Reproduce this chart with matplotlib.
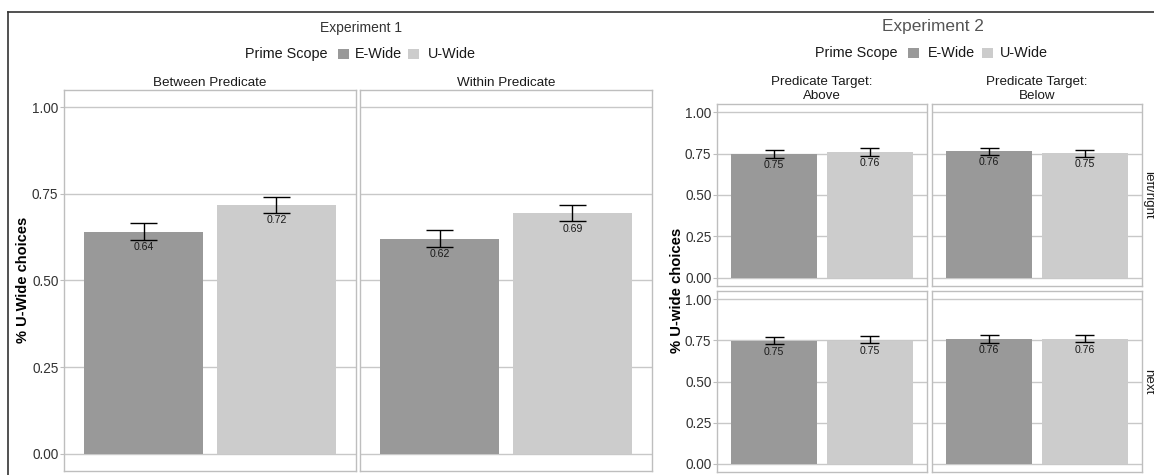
import matplotlib
matplotlib.use('Agg')
import matplotlib.pyplot as plt
from matplotlib.patches import Rectangle
from matplotlib.lines import Line2D

plt.rcParams['font.family'] = ['Liberation Sans', 'DejaVu Sans']

# ---------------- data ----------------
scopes = ['E-Wide', 'U-Wide']
scope_colors = ['#999999', '#CCCCCC']
y_ticks = [0.0, 0.25, 0.5, 0.75, 1.0]
y_ticklabels = ['0.00', '0.25', '0.50', '0.75', '1.00']

exp1_panels = ['Between Predicate', 'Within Predicate']
exp1_mean = [[0.641, 0.717], [0.621, 0.694]]
exp1_low = [[0.618, 0.696], [0.597, 0.671]]
exp1_high = [[0.665, 0.741], [0.645, 0.717]]

exp2_cols = ['Predicate Target:\nAbove', 'Predicate Target:\nBelow']
exp2_rows = ['left/right', 'next']
# indexed [row][col][scope]
exp2_mean = [[[0.746, 0.758], [0.764, 0.752]],
             [[0.746, 0.748], [0.756, 0.758]]]
exp2_low = [[[0.726, 0.738], [0.742, 0.730]],
            [[0.725, 0.732], [0.736, 0.738]]]
exp2_high = [[[0.770, 0.783], [0.787, 0.774]],
             [[0.770, 0.777], [0.781, 0.785]]]

# ---------------- figure ----------------
W, H = 1154, 475
fig = plt.figure(figsize=(W / 100, H / 100), dpi=100)


def fx(x):
    return x / W


def fy(y):
    return 1 - y / H


def px_axes(x0, y0, x1, y1):
    return fig.add_axes([fx(x0), fy(y1), (x1 - x0) / W, (y1 - y0) / H])


GRID = '#C8C8C8'
BORDER = '#BEBEBE'


def style(ax, show_y):
    ax.set_xlim(0.4, 2.6)
    ax.set_ylim(-0.05, 1.05)
    ax.set_yticks(y_ticks)
    ax.set_yticklabels(y_ticklabels)
    ax.set_xticks([])
    ax.grid(axis='y', color=GRID, lw=1.0)
    ax.set_axisbelow(True)
    for s in ax.spines.values():
        s.set_color(BORDER)
        s.set_linewidth(1.0)
    ax.tick_params(axis='y', length=3, width=0.8, color=BORDER, pad=1,
                   labelsize=9.8, labelcolor='#333333')
    if not show_y:
        ax.tick_params(axis='y', left=False, labelleft=False)


def draw_panel(ax, means, lows, highs):
    xs = [1, 2]
    ax.bar(xs, means, width=0.9, color=scope_colors, zorder=2)
    ax.vlines(xs, lows, highs, color='black', lw=1.0, zorder=3)
    ax.hlines(lows, [x - 0.1 for x in xs], [x + 0.1 for x in xs],
              color='black', lw=1.0, zorder=3)
    ax.hlines(highs, [x - 0.1 for x in xs], [x + 0.1 for x in xs],
              color='black', lw=1.0, zorder=3)
    for x, m, lo in zip(xs, means, lows):
        ax.annotate(f'{m:.2f}', (x, lo), xytext=(0, -5.3),
                    textcoords='offset points', ha='center', va='center',
                    fontsize=7.6, color='#1a1a1a', zorder=4)


# ---------------- Experiment 1 ----------------
exp1_boxes = [(64, 90, 356, 471), (360, 90, 652, 471)]
for i, box in enumerate(exp1_boxes):
    ax = px_axes(*box)
    style(ax, show_y=(i == 0))
    draw_panel(ax, exp1_mean[i], exp1_low[i], exp1_high[i])
    fig.text(fx((box[0] + box[2]) / 2), fy(83), exp1_panels[i],
             ha='center', va='center', fontsize=9.7, color='#1a1a1a')

fig.text(fx(23), fy(280), '% U-Wide choices', rotation=90, ha='center',
         va='center', fontsize=10.5, fontweight='bold', color='black')
fig.text(fx(361), fy(28), 'Experiment 1', ha='center', va='center',
         fontsize=10, color='#333333')

# ---------------- Experiment 2 ----------------
exp2_x = [(717, 927), (932, 1142)]
exp2_y = [(104, 286), (291, 472)]
for r in range(2):
    for c in range(2):
        x0, x1 = exp2_x[c]
        y0, y1 = exp2_y[r]
        ax = px_axes(x0, y0, x1, y1)
        style(ax, show_y=(c == 0))
        draw_panel(ax, exp2_mean[r][c], exp2_low[r][c], exp2_high[r][c])
        if r == 0:
            fig.text(fx((x0 + x1) / 2), fy(89), exp2_cols[c], ha='center',
                     va='center', fontsize=9.6, color='#1a1a1a',
                     linespacing=1.15)
    y0, y1 = exp2_y[r]
    fig.text(fx(1148), fy((y0 + y1) / 2), exp2_rows[r], rotation=270,
             ha='center', va='center', fontsize=9.6, color='#1a1a1a')

fig.text(fx(677), fy(290), '% U-wide choices', rotation=90, ha='center',
         va='center', fontsize=10.7, fontweight='bold', color='black')
fig.text(fx(933), fy(27), 'Experiment 2', ha='center', va='center',
         fontsize=12.4, color='#555555')

# ---------------- legends ----------------
def legend(x_title, x_keys, x_labels, y, key=10.5, size=10.4):
    fig.text(fx(x_title), fy(y), 'Prime Scope', ha='left', va='center',
             fontsize=size, color='#1a1a1a')
    for kx, lx, lab, col in zip(x_keys, x_labels, scopes, scope_colors):
        fig.add_artist(Rectangle((fx(kx), fy(y + key / 2)), key / W, key / H,
                                 transform=fig.transFigure, facecolor=col,
                                 edgecolor='none'))
        fig.text(fx(lx), fy(y), lab, ha='left', va='center', fontsize=size,
                 color='#1a1a1a')


legend(245, [338, 408], [355, 428], 54)
legend(815, [908, 982], [928, 1000], 53)

# ---------------- frame ----------------
fig.add_artist(Line2D([fx(8), 1], [fy(11.5), fy(11.5)],
                      transform=fig.transFigure, color='#333333', lw=1.2))
fig.add_artist(Line2D([fx(8), fx(8)], [fy(11.5), 0],
                      transform=fig.transFigure, color='#333333', lw=1.2))

fig.savefig('out.png', dpi=100)
